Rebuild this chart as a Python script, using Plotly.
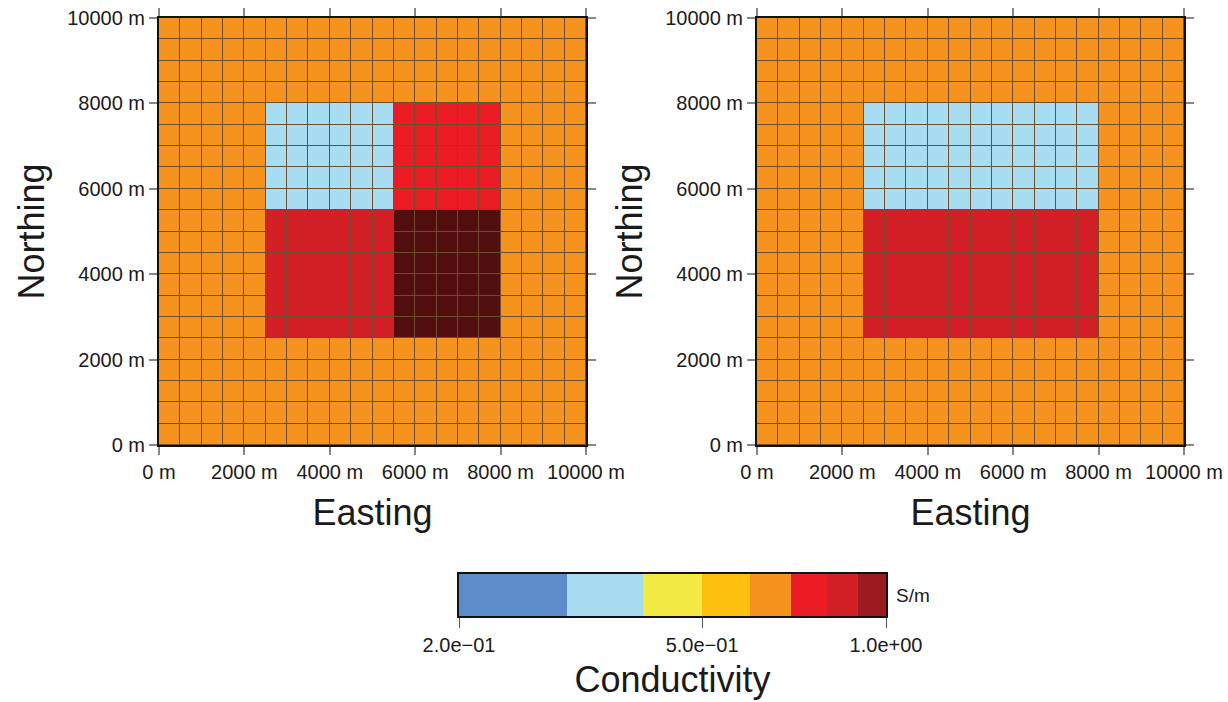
import numpy as np
import plotly.graph_objects as go

# ---------------- data ----------------
cell_size = 500          # m
n_cells = 20             # cells per side
background_sigma = 0.65  # S/m

# blocks: (x0, x1, y0, y1, conductivity S/m)
left_blocks = [
    (2500, 5500, 5500, 8000, 0.35),
    (5500, 8000, 5500, 8000, 0.75),
    (2500, 5500, 2500, 5500, 0.85),
    (5500, 8000, 2500, 5500, 1.50),
]
right_blocks = [
    (2500, 8000, 5500, 8000, 0.35),
    (2500, 8000, 2500, 5500, 0.85),
]

cb_bounds = [0.2, 0.3, 0.4, 0.5, 0.6, 0.7, 0.8, 0.9, 1.0]
cb_colors = ["#5b8bc8", "#a7dcf1", "#f3ea45", "#fdc00f", "#f6921e",
             "#ec1c24", "#d32027", "#9c1b1f"]
over_color = "#520d0e"
cb_tickvals = [0.2, 0.5, 1.0]
cb_ticktext = ["2.0e\u221201", "5.0e\u221201", "1.0e+00"]

axis_ticks = [0, 2000, 4000, 6000, 8000, 10000]
axis_ticktext = ["0 m", "2000 m", "4000 m", "6000 m", "8000 m", "10000 m"]

# ---------------- helpers ----------------
centers = [cell_size / 2 + cell_size * i for i in range(n_cells)]
all_colors = cb_colors + [over_color]
ncol = len(all_colors)
colorscale = []
for i, c in enumerate(all_colors):
    colorscale.append([i / ncol, c])
    colorscale.append([(i + 1) / ncol, c])


def band_index(v):
    return int(np.searchsorted(cb_bounds, v, side="right") - 1)


def model_grid(blocks):
    z = np.full((n_cells, n_cells), band_index(background_sigma), dtype=float)
    for (x0, x1, y0, y1, s) in blocks:
        for j, yc in enumerate(centers):
            for i, xc in enumerate(centers):
                if x0 <= xc <= x1 and y0 <= yc <= y1:
                    z[j, i] = band_index(s)
    return z


FONT = "Liberation Sans, Arial, Helvetica, sans-serif"
fig = go.Figure()

for k, blocks in enumerate([left_blocks, right_blocks]):
    xa = "x" if k == 0 else "x2"
    ya = "y" if k == 0 else "y2"
    fig.add_trace(go.Heatmap(
        x=centers, y=centers, z=model_grid(blocks),
        colorscale=colorscale, zmin=-0.5, zmax=ncol - 0.5,
        xgap=1, ygap=1, showscale=False, hoverinfo="skip",
        xaxis=xa, yaxis=ya))

# colorbar as heatmap
cb_edges = list(np.log10(cb_bounds))
fig.add_trace(go.Heatmap(
    x=cb_edges, y=[0, 1], z=[list(range(len(cb_colors)))],
    colorscale=colorscale, zmin=-0.5, zmax=ncol - 0.5,
    showscale=False, hoverinfo="skip", xaxis="x3", yaxis="y3"))

W, H = 1228, 702
pl = [(159, 586), (757, 1184)]
top, bot = 18, 445

tickfont = dict(family=FONT, size=20, color="#1a1a1a")
titlefont = dict(family=FONT, size=36, color="#1a1a1a")

common = dict(range=[0, 10000], tickvals=axis_ticks, ticktext=axis_ticktext,
              showline=True, linecolor="#111", linewidth=2, mirror="ticks",
              ticks="outside", ticklen=8, tickcolor="#888", tickwidth=1.5,
              showgrid=False, zeroline=False, tickfont=tickfont, automargin=False)

layout = dict(
    width=W, height=H, margin=dict(l=0, r=0, t=0, b=0),
    paper_bgcolor="white", plot_bgcolor="#6e4e2e",
    showlegend=False,
)
for k, (x0, x1) in enumerate(pl):
    sfx = "" if k == 0 else "2"
    layout["xaxis" + sfx] = dict(common, domain=[x0 / W, x1 / W],
                                 anchor="y" + sfx,
                                 title=dict(text="Easting", font=titlefont, standoff=18))
    layout["yaxis" + sfx] = dict(common, domain=[1 - bot / H, 1 - top / H],
                                 anchor="x" + sfx,
                                 title=dict(text="Northing", font=titlefont, standoff=12))

cbx0, cbx1, cby0, cby1 = 459, 886, 574, 616
layout["xaxis3"] = dict(domain=[cbx0 / W, cbx1 / W], anchor="y3",
                        range=[cb_edges[0], cb_edges[-1]],
                        tickvals=list(np.log10(cb_tickvals)), ticktext=cb_ticktext,
                        ticks="outside", ticklen=10, tickcolor="#555", tickwidth=1,
                        showline=True, linecolor="#111", linewidth=2, mirror=True,
                        showgrid=False, zeroline=False, automargin=False,
                        tickfont=dict(family=FONT, size=20, color="#1a1a1a"),
                        title=dict(text="Conductivity", font=titlefont, standoff=12))
layout["yaxis3"] = dict(domain=[1 - cby1 / H, 1 - cby0 / H], anchor="x3",
                        range=[0, 1], showticklabels=False, ticks="",
                        showline=True, linecolor="#111", linewidth=2, mirror=True,
                        showgrid=False, zeroline=False, automargin=False)
layout["annotations"] = [dict(text="S/m", xref="paper", yref="paper",
                              x=(cbx1 + 8) / W, y=1 - (cby0 + cby1) / 2 / H,
                              xanchor="left", yanchor="middle", showarrow=False,
                              font=dict(family=FONT, size=19, color="#1a1a1a"))]

fig.update_layout(**layout)
fig.write_html("out.html")
